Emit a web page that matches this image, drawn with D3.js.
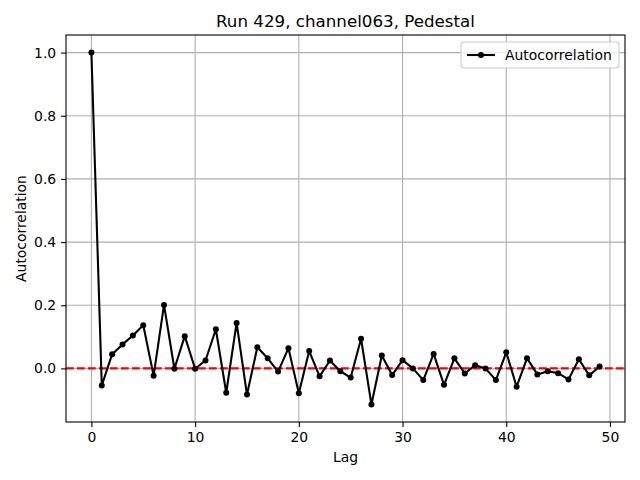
<!DOCTYPE html>
<html>
<head>
<meta charset="utf-8">
<script src="https://cdn.jsdelivr.net/npm/d3@7"></script>
<style>
  body { margin: 0; background: #fff; }
  text { font-family: "DejaVu Sans", sans-serif; fill: #000; }
</style>
</head>
<body>
<script>
// autocorrelation values, lag 0..49
var lags = d3.range(0, 50);
var acf = [1.0, -0.054, 0.045, 0.076, 0.104, 0.137, -0.023, 0.201, -0.001, 0.102,
           -0.001, 0.025, 0.124, -0.077, 0.144, -0.083, 0.067, 0.032, -0.01, 0.064,
           -0.079, 0.055, -0.025, 0.025, -0.009, -0.029, 0.094, -0.114, 0.041, -0.021,
           0.026, 0.0, -0.037, 0.046, -0.052, 0.032, -0.016, 0.01, 0.0, -0.037,
           0.051, -0.058, 0.032, -0.019, -0.009, -0.015, -0.035, 0.029, -0.022, 0.006];
var xTicks = [0, 10, 20, 30, 40, 50];
var yTicks = [0.0, 0.2, 0.4, 0.6, 0.8, 1.0];

var width = 640, height = 480;
var margin = {top: 35, right: 15, bottom: 58, left: 66};

var svg = d3.select('body').append('svg')
    .attr('width', width)
    .attr('height', height);

// matplotlib style 5% margins
var xMin = d3.min(lags), xMax = d3.max(lags);
var yMin = d3.min(acf), yMax = d3.max(acf);
var xPad = (xMax - xMin) * 0.05, yPad = (yMax - yMin) * 0.05;

var x = d3.scaleLinear()
    .domain([xMin - xPad, xMax + xPad])
    .range([margin.left, width - margin.right]);
var y = d3.scaleLinear()
    .domain([yMin - yPad, yMax + yPad])
    .range([height - margin.bottom, margin.top]);

// grid
svg.append('g').selectAll('line')
    .data(xTicks).enter().append('line')
    .attr('x1', d => x(d)).attr('x2', d => x(d))
    .attr('y1', margin.top).attr('y2', height - margin.bottom)
    .attr('stroke', '#b0b0b0').attr('stroke-width', 1.1);
svg.append('g').selectAll('line')
    .data(yTicks).enter().append('line')
    .attr('x1', margin.left).attr('x2', width - margin.right)
    .attr('y1', d => y(d)).attr('y2', d => y(d))
    .attr('stroke', '#b0b0b0').attr('stroke-width', 1.1);

// zero line
svg.append('line')
    .attr('x1', margin.left).attr('x2', width - margin.right)
    .attr('y1', y(0)).attr('y2', y(0))
    .attr('stroke', 'red').attr('stroke-width', 2.1)
    .attr('stroke-dasharray', '7.7,3.3');

// data line + dots
var line = d3.line()
    .x((d, i) => x(lags[i]))
    .y(d => y(d));
svg.append('path')
    .datum(acf)
    .attr('d', line)
    .attr('fill', 'none')
    .attr('stroke', '#000')
    .attr('stroke-width', 2.1)
    .attr('stroke-linejoin', 'round');
svg.append('g').selectAll('circle')
    .data(acf).enter().append('circle')
    .attr('cx', (d, i) => x(lags[i]))
    .attr('cy', d => y(d))
    .attr('r', 3)
    .attr('fill', '#000');

// axes
var xAxis = svg.append('g')
    .attr('transform', 'translate(0,' + (height - margin.bottom) + ')')
    .call(d3.axisBottom(x).tickValues(xTicks).tickSize(4.9).tickPadding(4.9).tickFormat(d3.format('d')));
var yAxis = svg.append('g')
    .attr('transform', 'translate(' + margin.left + ',0)')
    .call(d3.axisLeft(y).tickValues(yTicks).tickSize(4.9).tickPadding(4.9).tickFormat(d3.format('.1f')));
[xAxis, yAxis].forEach(function(a) {
  a.select('.domain').remove();
  a.selectAll('line').attr('stroke', '#000').attr('stroke-width', 1.1);
  a.selectAll('text').style('font-size', '13.9px').style('font-family', '"DejaVu Sans", sans-serif');
});

// frame
svg.append('rect')
    .attr('x', margin.left).attr('y', margin.top)
    .attr('width', width - margin.left - margin.right)
    .attr('height', height - margin.top - margin.bottom)
    .attr('fill', 'none').attr('stroke', '#000').attr('stroke-width', 1.1);

// labels
svg.append('text')
    .attr('x', (margin.left + width - margin.right) / 2)
    .attr('y', 27)
    .attr('text-anchor', 'middle')
    .style('font-size', '16.7px')
    .text('Run 429, channel063, Pedestal');
svg.append('text')
    .attr('x', (margin.left + width - margin.right) / 2)
    .attr('y', 462)
    .attr('text-anchor', 'middle')
    .style('font-size', '13.9px')
    .text('Lag');
svg.append('text')
    .attr('transform', 'translate(26,' + ((margin.top + height - margin.bottom) / 2) + ') rotate(-90)')
    .attr('text-anchor', 'middle')
    .style('font-size', '13.9px')
    .text('Autocorrelation');

// legend
var lg = svg.append('g').attr('transform', 'translate(461,42)');
lg.append('rect')
    .attr('width', 158).attr('height', 26).attr('rx', 3)
    .attr('fill', '#fff').attr('fill-opacity', 0.8)
    .attr('stroke', '#ccc').attr('stroke-width', 1.1);
lg.append('line')
    .attr('x1', 6).attr('x2', 34).attr('y1', 13).attr('y2', 13)
    .attr('stroke', '#000').attr('stroke-width', 2.1);
lg.append('circle').attr('cx', 20).attr('cy', 13).attr('r', 3).attr('fill', '#000');
lg.append('text')
    .attr('x', 44).attr('y', 18)
    .style('font-size', '13.9px')
    .text('Autocorrelation');
</script>
</body>
</html>
